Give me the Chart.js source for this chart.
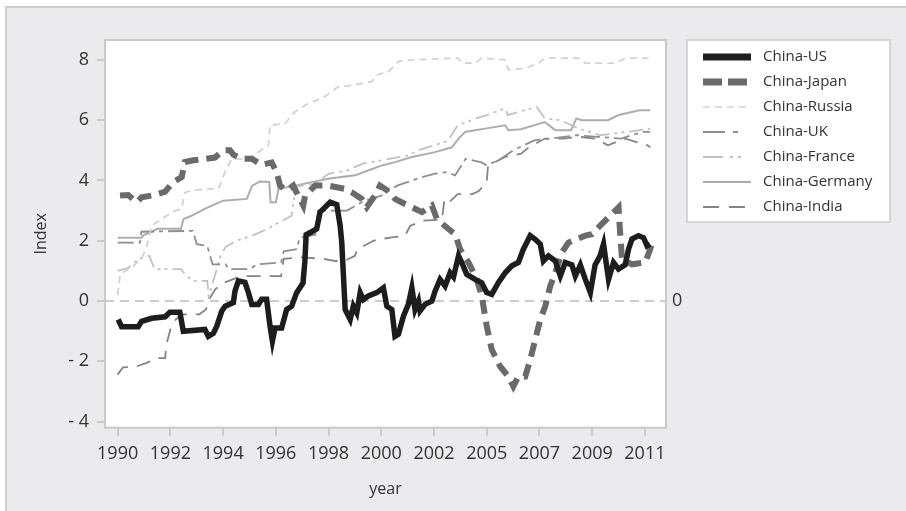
<!DOCTYPE html>
<html>
<head>
<meta charset="utf-8">
<script src="https://cdn.jsdelivr.net/npm/chart.js@4.4.1/dist/chart.umd.min.js"></script>
<style>
  html, body { margin: 0; padding: 0; background: #fff; }
  #wrap { width: 906px; height: 511px; }
</style>
</head>
<body>
<div id="wrap"><canvas id="myChart" width="906" height="511"></canvas></div>
<script>
// axis labels
const xTickPos = [1990, 1992, 1994, 1996, 1998, 2000, 2002, 2004, 2006, 2008, 2010]
const xTickLabels = ['1990', '1992', '1994', '1996', '1998', '2000', '2002', '2005', '2007', '2009', '2011']
const yTickVals = [-4, -2, 0, 2, 4, 6, 8]
const seriesNames = ['China-US', 'China-Japan', 'China-Russia', 'China-UK', 'China-France', 'China-Germany', 'China-India']

// series values (t = position on the year axis, v = index)
const usT = [1990.02,1990.15,1990.78,1990.91,1991.29,1991.80,1991.98,1992.36,1992.49,1993.31,1993.44,1993.63,1993.76,1993.95,1994.08,1994.39,1994.45,1994.58,1994.83,1994.96,1995.09,1995.34,1995.46,1995.65,1995.78,1995.87,1995.97,1996.22,1996.41,1996.60,1996.79,1996.92,1997.03,1997.10,1997.15,1997.36,1997.55,1997.68,1998.06,1998.31,1998.44,1998.50,1998.63,1998.82,1998.94,1999.07,1999.20,1999.32,1999.51,1999.83,2000.08,2000.21,2000.40,2000.52,2000.65,2000.84,2001.03,2001.16,2001.28,2001.41,2001.47,2001.66,2001.92,2002.04,2002.23,2002.42,2002.61,2002.74,2002.93,2003.05,2003.24,2003.56,2003.81,2004.00,2004.19,2004.44,2004.70,2004.95,2005.20,2005.39,2005.65,2005.84,2006.03,2006.15,2006.34,2006.60,2006.79,2006.98,2007.23,2007.36,2007.55,2007.74,2007.93,2008.11,2008.30,2008.43,2008.62,2008.81,2009.00,2009.25,2009.38,2009.51,2009.76,2009.95,2010.08,2010.20]
const usV = [-0.61,-0.85,-0.85,-0.67,-0.57,-0.52,-0.37,-0.37,-1.0,-0.94,-1.17,-1.07,-0.83,-0.33,-0.17,-0.05,0.33,0.67,0.62,0.28,-0.11,-0.11,0.06,0.06,-0.83,-1.33,-0.89,-0.89,-0.28,-0.17,0.28,0.45,0.6,1.3,2.2,2.3,2.4,2.95,3.28,3.2,2.5,1.95,-0.28,-0.61,-0.17,-0.39,0.28,0.05,0.17,0.28,0.44,-0.17,-0.28,-1.17,-1.1,-0.5,-0.1,0.44,-0.28,0.0,-0.33,-0.11,0.0,0.33,0.72,0.5,0.94,0.8,1.5,1.28,0.89,0.72,0.61,0.28,0.22,0.61,0.94,1.17,1.28,1.72,2.17,2.05,1.89,1.33,1.5,1.33,0.83,1.28,1.2,0.83,1.2,0.72,0.28,1.2,1.5,1.89,0.72,1.28,1.06,1.2,1.72,2.06,2.17,2.1,1.83,1.89]

const japanT = [1990.09,1990.40,1990.72,1990.91,1991.42,1991.80,1992.11,1992.43,1992.55,1992.87,1993.69,1994.01,1994.26,1994.39,1994.71,1995.09,1995.46,1995.84,1996.03,1996.16,1996.41,1996.66,1996.79,1997.04,1997.11,1997.49,1997.99,1998.63,1998.88,1999.26,1999.45,1999.76,1999.95,2000.33,2000.52,2000.90,2001.28,2001.54,2001.92,2002.11,2002.55,2002.80,2002.99,2003.31,2003.62,2003.81,2004.00,2004.19,2004.51,2004.82,2005.01,2005.20,2005.46,2005.65,2005.84,2006.03,2006.22,2006.41,2006.60,2006.85,2007.10,2007.42,2007.74,2007.99,2008.37,2008.75,2009.00,2009.05,2009.13,2009.51,2010.01,2010.20,2010.27]
const japanV = [3.5,3.52,3.28,3.44,3.52,3.63,3.95,4.11,4.61,4.67,4.76,5.0,5.0,4.86,4.72,4.72,4.52,4.6,4.28,3.83,3.67,3.83,3.6,3.17,3.5,3.83,3.83,3.72,3.61,3.39,3.11,3.5,3.83,3.61,3.39,3.22,3.06,2.95,3.17,2.72,2.39,2.22,1.72,1.28,0.72,0.17,-0.83,-1.61,-2.17,-2.5,-2.83,-2.5,-2.5,-1.94,-1.28,-0.61,-0.17,0.5,0.94,1.61,1.94,2.06,2.17,2.22,2.56,2.89,3.11,2.4,1.39,1.22,1.28,1.72,1.94]

const russiaT = [1990.0,1990.1,1990.5,1990.9,1991.1,1991.29,1991.67,1992.05,1992.43,1992.55,1992.8,1993.44,1993.82,1994.07,1994.33,1994.96,1995.72,1995.78,1996.35,1996.73,1997.23,1997.74,1998.12,1998.37,1999.01,1999.64,1999.83,2000.27,2000.52,2000.65,2001.16,2002.93,2003.05,2003.56,2003.81,2004.70,2004.82,2005.46,2005.96,2006.22,2007.48,2007.74,2008.88,2009.25,2010.14]
const russiaV = [0.2,0.9,1.1,1.4,1.8,2.5,2.72,2.95,3.06,3.6,3.67,3.72,3.72,4.28,4.72,4.72,5.17,5.83,5.89,6.28,6.56,6.72,6.95,7.11,7.17,7.28,7.5,7.61,7.83,7.95,8.0,8.06,7.89,7.89,8.06,8.0,7.67,7.72,7.89,8.06,8.06,7.89,7.89,8.06,8.06]

const ukT = [1990.0,1990.85,1990.9,1992.85,1993.0,1993.4,1993.6,1994.1,1994.2,1995.0,1995.3,1996.2,1996.3,1996.8,1996.9,1997.5,1997.6,1998.7,1999.3,2000.0,2000.6,2001.5,2002.0,2002.5,2002.8,2003.2,2003.8,2004.0,2004.5,2005.0,2005.8,2006.4,2007.4,2008.2,2009.1,2009.9,2010.2]
const ukV = [1.94,1.94,2.3,2.33,1.89,1.83,1.22,1.22,1.06,1.06,1.22,1.28,1.65,1.72,2.1,2.2,3.0,3.0,3.3,3.5,3.83,4.1,4.22,4.28,4.17,4.72,4.6,4.5,4.7,5.0,5.33,5.39,5.5,5.45,5.39,5.61,5.61]

const franceT = [1990.0,1990.4,1990.8,1991.2,1991.4,1992.4,1992.6,1992.9,1993.4,1993.45,1993.6,1993.8,1993.9,1994.1,1994.5,1995.1,1995.7,1996.1,1996.6,1996.75,1997.5,1998.0,1998.7,1999.3,2000.0,2001.0,2001.4,2002.0,2002.5,2002.9,2003.6,2004.0,2004.7,2004.8,2005.5,2005.9,2006.2,2006.8,2007.5,2008.3,2009.3,2010.2]
const franceV = [1.0,1.1,1.4,1.5,1.06,1.06,0.83,0.67,0.67,0.17,0.6,1.17,1.5,1.8,2.0,2.17,2.4,2.6,2.83,3.8,3.9,4.22,4.33,4.56,4.67,4.83,5.0,5.17,5.3,5.83,6.06,6.17,6.39,6.17,6.35,6.44,6.06,6.0,5.72,5.5,5.61,5.72]

const germanyT = [1990.0,1990.9,1991.0,1991.3,1991.5,1992.4,1992.5,1992.8,1993.3,1994.0,1994.9,1995.1,1995.4,1995.75,1995.8,1996.0,1996.1,1996.73,1997.98,1999.01,1999.50,2000.02,2000.52,2001.16,2002.04,2002.68,2002.93,2003.18,2003.56,2003.94,2004.70,2004.82,2005.3,2006.2,2006.6,2007.2,2007.4,2007.6,2008.6,2009.0,2009.8,2010.2]
const germanyV = [2.1,2.1,2.2,2.3,2.4,2.4,2.72,2.83,3.06,3.33,3.39,3.83,3.97,3.95,3.28,3.28,3.72,3.83,4.06,4.17,4.33,4.5,4.61,4.78,4.94,5.1,5.39,5.61,5.67,5.72,5.83,5.67,5.7,5.94,5.67,5.67,6.06,6.0,6.0,6.17,6.33,6.33]

const indiaT = [1990.0,1990.2,1990.7,1991.1,1991.5,1991.8,1991.85,1992.0,1992.2,1992.5,1993.1,1993.35,1993.5,1993.7,1994.0,1994.7,1996.2,1996.3,1997.0,1997.8,1998.25,1998.6,1999.0,1999.1,1999.7,2000.0,2000.4,2000.9,2001.1,2001.6,2002.3,2002.4,2002.6,2002.9,2003.45,2003.7,2004.0,2004.05,2004.7,2005.3,2005.6,2006.2,2006.9,2007.5,2008.1,2008.6,2009.25,2010.1,2010.2]
const indiaV = [-2.44,-2.2,-2.17,-2.05,-1.89,-1.89,-1.44,-0.94,-0.61,-0.44,-0.44,-0.28,0.1,0.39,0.6,0.83,0.83,1.4,1.45,1.4,1.33,1.33,1.5,1.72,2.0,2.06,2.11,2.17,2.5,2.67,2.7,3.4,3.3,3.55,3.55,3.65,3.95,4.5,4.78,4.89,5.1,5.39,5.39,5.45,5.39,5.17,5.39,5.17,5.1]

// line styles, one per series (same order as seriesNames)
const lineStyles = [
    { color: '#1d1d1d', width: 5.5, dash: [], legendWidth: 7, legendDash: [] },
    { color: '#6a6a6a', width: 6, dash: [14, 8], legendWidth: 7, legendDash: [19, 6] },
    { color: '#d2d2d2', width: 1.8, dash: [7, 5], legendWidth: 1.5, legendDash: [7, 5] },
    { color: '#8e8e8e', width: 1.8, dash: [16, 5, 4, 5], legendWidth: 2, legendDash: [22, 8, 5, 20] },
    { color: '#c2c2c2', width: 1.8, dash: [14, 5, 3, 4, 3, 5], legendWidth: 2, legendDash: [20, 7, 3, 5, 3, 20] },
    { color: '#adadad', width: 2, dash: [], legendWidth: 2, legendDash: [] },
    { color: '#858585', width: 1.8, dash: [14, 9], legendWidth: 2, legendDash: [16, 10] }
]

const seriesT = [usT, japanT, russiaT, ukT, franceT, germanyT, indiaT]
const seriesV = [usV, japanV, russiaV, ukV, franceV, germanyV, indiaV]

Chart.defaults.font.family = "'Open Sans', 'Noto Sans', sans-serif"
Chart.defaults.color = '#333333'

// background panel, plot frame, zero line
const framePlugin = {
    id: 'frame',
    beforeDraw: (chart) => {
        const { ctx, chartArea: a } = chart
        ctx.save()
        ctx.fillStyle = '#ffffff'
        ctx.fillRect(0, 0, chart.width, chart.height)
        ctx.fillStyle = '#ebebed'
        ctx.fillRect(6, 7, chart.width, chart.height)
        ctx.strokeStyle = '#cfcfd1'
        ctx.lineWidth = 2
        ctx.beginPath()
        ctx.moveTo(6, chart.height)
        ctx.lineTo(6, 7)
        ctx.lineTo(chart.width, 7)
        ctx.stroke()
        ctx.fillStyle = '#ffffff'
        ctx.fillRect(a.left, a.top, a.right - a.left, a.bottom - a.top)
        ctx.strokeStyle = '#c9c9c9'
        ctx.lineWidth = 2
        ctx.strokeRect(a.left, a.top, a.right - a.left, a.bottom - a.top)
        ctx.restore()
    },
    beforeDatasetsDraw: (chart) => {
        const { ctx, chartArea: a, scales } = chart
        const y0 = scales.y.getPixelForValue(0)
        ctx.save()
        ctx.strokeStyle = '#cccccc'
        ctx.lineWidth = 2
        ctx.setLineDash([9, 6])
        ctx.beginPath()
        ctx.moveTo(a.left, y0)
        ctx.lineTo(a.right, y0)
        ctx.stroke()
        ctx.setLineDash([])
        ctx.fillStyle = '#333333'
        ctx.font = "18px 'Open Sans', 'Noto Sans', sans-serif"
        ctx.textAlign = 'left'
        ctx.textBaseline = 'middle'
        ctx.fillText('0', a.right + 6, y0)
        ctx.restore()
    }
}

// legend box on the right
const legendPlugin = {
    id: 'sideLegend',
    afterDraw: (chart) => {
        const { ctx } = chart
        const box = { x: 687, y: 40, w: 203, h: 182 }
        ctx.save()
        ctx.fillStyle = '#ffffff'
        ctx.fillRect(box.x, box.y, box.w, box.h)
        ctx.strokeStyle = '#cccccc'
        ctx.lineWidth = 1.5
        ctx.strokeRect(box.x, box.y, box.w, box.h)
        seriesNames.forEach((name, i) => {
            const st = lineStyles[i]
            const yy = box.y + 17 + i * 25
            ctx.strokeStyle = st.color
            ctx.lineWidth = st.legendWidth
            ctx.setLineDash(st.legendDash)
            ctx.lineCap = 'butt'
            ctx.beginPath()
            ctx.moveTo(703, yy)
            ctx.lineTo(751, yy)
            ctx.stroke()
            ctx.setLineDash([])
            ctx.fillStyle = '#333333'
            ctx.font = "15px 'Open Sans', 'Noto Sans', sans-serif"
            ctx.textAlign = 'left'
            ctx.textBaseline = 'middle'
            ctx.fillText(name, 763, yy)
        })
        ctx.restore()
    }
}

const datasets = seriesNames.map((name, i) => ({
    label: name,
    data: seriesT[i].map((t, k) => ({ x: t, y: seriesV[i][k] })),
    borderColor: lineStyles[i].color,
    borderWidth: lineStyles[i].width,
    borderDash: lineStyles[i].dash,
    pointRadius: 0,
    tension: 0,
    fill: false
}))

const ctx = document.getElementById('myChart')
new Chart(ctx, {
    type: 'line',
    data: { datasets: datasets },
    options: {
        responsive: false,
        animation: false,
        layout: { padding: { left: 30, right: 240, top: 40, bottom: 10 } },
        plugins: {
            legend: { display: false },
            tooltip: { enabled: false }
        },
        scales: {
            x: {
                type: 'linear',
                min: 1989.52,
                max: 2010.8,
                afterBuildTicks: (scale) => {
                    scale.ticks = xTickPos.map(v => ({ value: v }))
                },
                afterFit: (scale) => { scale.height = 73.3 },
                ticks: {
                    font: { size: 18 },
                    padding: 7,
                    maxRotation: 0,
                    autoSkip: false,
                    callback: (v, i) => xTickLabels[i]
                },
                grid: { drawOnChartArea: false, drawTicks: true, tickLength: 8, color: '#c9c9c9', lineWidth: 2 },
                border: { display: false },
                title: { display: true, text: 'year', font: { size: 16 }, padding: { top: 0, bottom: 2 } }
            },
            y: {
                type: 'linear',
                min: -4.2,
                max: 8.66,
                afterBuildTicks: (scale) => {
                    scale.ticks = yTickVals.map(v => ({ value: v }))
                },
                afterFit: (scale) => { scale.width = 75 },
                ticks: {
                    font: { size: 18 },
                    padding: 8,
                    callback: (v) => v < 0 ? '- ' + Math.abs(v) : String(v)
                },
                grid: { drawOnChartArea: false, drawTicks: true, tickLength: 8, color: '#c9c9c9', lineWidth: 2 },
                border: { display: false },
                title: { display: true, text: 'Index', font: { size: 16 }, padding: { top: 2, bottom: 0 } }
            }
        }
    },
    plugins: [framePlugin, legendPlugin]
})
</script>
</body>
</html>
